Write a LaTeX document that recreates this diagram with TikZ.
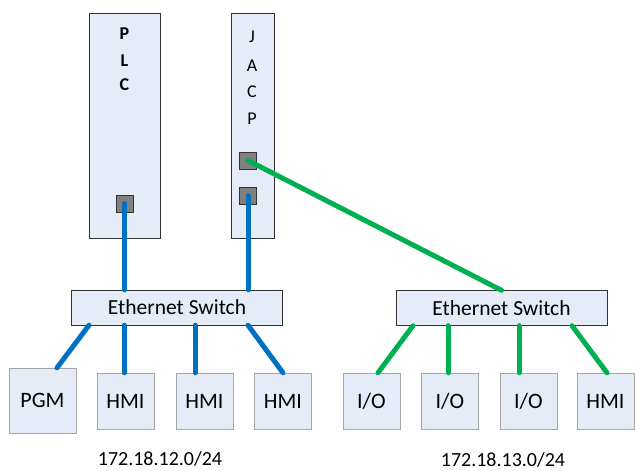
\documentclass[tikz,border=0pt]{standalone}
\usepackage{fontspec}
\setmainfont{Carlito}
\definecolor{boxfill}{RGB}{230,236,247}
\definecolor{netblue}{RGB}{0,112,192}
\definecolor{netgreen}{RGB}{0,176,80}
\definecolor{portgray}{RGB}{128,128,128}

\begin{document}
\begin{tikzpicture}[x=1pt,y=-1pt,
  rack/.style={draw=black!80,fill=boxfill,minimum width=#1,minimum height=225pt,inner sep=0pt},
  letter/.style={anchor=base,inner sep=0pt,font=\fontsize{18}{20}\selectfont},
  port/.style={draw=black!80,fill=portgray,minimum width=17pt,minimum height=17pt,inner sep=0pt},
  switchbox/.style={draw=black!80,fill=boxfill,minimum width=211pt,minimum height=35pt,inner sep=0pt,
    font=\fontsize{21.5}{24}\selectfont},
  dev/.style={draw=black!35,fill=boxfill,minimum width=57pt,minimum height=56pt,inner sep=0pt,
    font=\fontsize{22}{24}\selectfont},
  bluelink/.style={netblue,line width=5pt,line cap=round},
  greenlink/.style={netgreen,line width=5pt,line cap=round}]
\useasboundingbox (0,0) rectangle (635,471);
% controllers
\node [rack=71pt] (plc) at (124.5,125.5) {};
\node [rack=43pt] (jacp) at (252.5,125.5) {};
\foreach \c/\y in {P/39,L/66,C/90.5}
  \node [letter,font=\fontsize{18}{20}\selectfont\bfseries] (plc\c) at (124.5,\y) {\c};
\foreach \c/\y in {J/42,A/71,C/97.5,P/124}
  \node [letter] (jacp\c) at (252,\y) {\c};
\node [port] (plcp) at (124.5,203.5) {};
\node [port] (jacpa) at (248,160.5) {};
\node [port] (jacpb) at (248,195.5) {};
% switches
\node [switchbox] (swa) at (177,307.5) {Ethernet Switch};
\node [switchbox] (swb) at (501.5,308) {Ethernet Switch};
% devices
\node [dev,minimum width=67pt,minimum height=65pt] (pgm) at (42.5,400.5) {PGM};
\foreach \n/\x/\t in {hmia/125.5/HMI,hmib/204.5/HMI,hmic/283/HMI,
                      ioa/371.5/{I/O},iob/450/{I/O},ioc/528.5/{I/O},hmid/605.5/HMI}
  \node [dev] (\n) at (\x,401) {\t};
% links
\draw [bluelink] (plcp.center) -- (plcp.center |- swa.north);
\draw [bluelink] (jacpb.center) -- (jacpb.center |- swa.north);
\draw [bluelink] ([xshift=-88pt]swa.south) -- ([xshift=14.5pt]pgm.north);
\draw [bluelink] ([xshift=-1.5pt]hmia.north) -- ([xshift=-1.5pt]hmia.north |- swa.south);
\draw [bluelink] ([xshift=-9.5pt]hmib.north) -- ([xshift=-9.5pt]hmib.north |- swa.south);
\draw [bluelink] ([xshift=71pt]swa.south) -- (hmic.north);
\draw [greenlink] (jacpa.center) -- (swb.north);
\draw [greenlink] ([xshift=-88.5pt]swb.south) -- ([xshift=6.5pt]ioa.north);
\draw [greenlink] ([xshift=-2pt]iob.north) -- ([xshift=-2pt]iob.north |- swb.south);
\draw [greenlink] ([xshift=-9.5pt]ioc.north) -- ([xshift=-9.5pt]ioc.north |- swb.south);
\draw [greenlink] ([xshift=70.5pt]swb.south) -- ([xshift=1.5pt]hmid.north);
% subnets
\node [inner sep=0pt,font=\fontsize{20}{24}\selectfont] (neta) at (160,459) {172.18.12.0/24};
\node [inner sep=0pt,font=\fontsize{20}{24}\selectfont] (netb) at (503,460) {172.18.13.0/24};
\end{tikzpicture}
\end{document}
